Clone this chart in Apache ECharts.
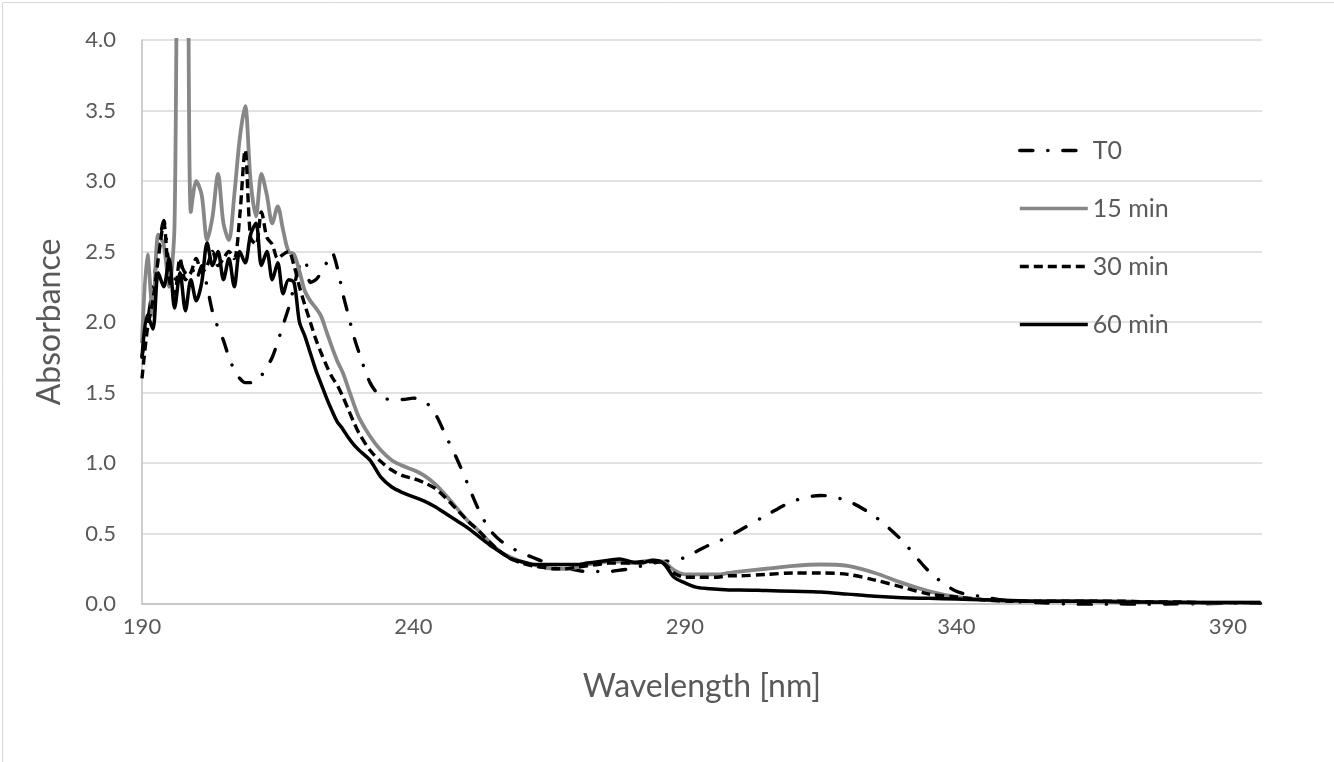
<!DOCTYPE html>
<html>
<head>
<meta charset="utf-8">
<script src="https://cdn.jsdelivr.net/npm/echarts@6/dist/echarts.min.js"></script>
<style>
html,body{margin:0;padding:0;background:#fff;}
#chart{width:1334px;height:762px;}
</style>
</head>
<body>
<div id="chart"></div>
<script>
// Wavelength grid [nm]
var wavelengths = [
  190,191,192,193,194,195,196,197,198,199,200,201,202,203,204,205,206,207,208,209,
  210,211,212,213,214,215,216,217,218,219,220,221,222,223,224,225,226,227,228,229,230,
  232,234,236,238,240,242,244,246,248,250,252,254,256,258,260,262,264,266,268,270,
  272,274,276,278,280,282,284,286,288,290,292,294,296,298,300,
  305,310,315,320,325,330,335,340,345,350,355,360,365,370,375,380,385,390,395,396
];
var seriesNames = ['T0', '15 min', '30 min', '60 min'];

var absT0 = [
  1.75,2.00,2.25,2.50,2.72,2.40,2.30,2.42,2.35,2.40,2.30,2.40,2.25,2.07,1.96,1.87,1.75,1.66,1.60,1.57,
  1.57,1.58,1.62,1.68,1.75,1.86,1.98,2.10,2.25,2.40,2.44,2.28,2.30,2.35,2.42,2.49,2.38,2.20,2.05,1.90,1.78,
  1.57,1.47,1.45,1.45,1.46,1.44,1.35,1.19,1.03,0.85,0.67,0.53,0.45,0.40,0.36,0.33,0.30,0.28,0.26,0.24,
  0.23,0.23,0.23,0.24,0.25,0.27,0.29,0.30,0.31,0.33,0.37,0.41,0.44,0.48,0.52,
  0.63,0.73,0.77,0.73,0.62,0.45,0.23,0.09,0.05,0.02,0.01,0.00,-0.005,0.00,-0.005,0.00,0.00,0.005,0.005,0.005
];
var abs15 = [
  1.85,2.48,2.05,2.62,2.55,2.25,2.70,6.50,6.50,2.78,3.00,2.90,2.58,2.75,3.05,2.70,2.58,2.90,3.30,3.53,
  3.00,2.75,3.05,2.90,2.70,2.82,2.65,2.50,2.48,2.36,2.22,2.15,2.10,2.04,1.93,1.82,1.72,1.64,1.53,1.42,1.32,
  1.19,1.09,1.02,0.98,0.95,0.91,0.85,0.77,0.68,0.59,0.52,0.44,0.37,0.33,0.30,0.28,0.26,0.25,0.25,0.26,
  0.28,0.29,0.30,0.30,0.29,0.30,0.31,0.30,0.24,0.21,0.21,0.21,0.21,0.22,0.23,
  0.25,0.27,0.28,0.27,0.22,0.15,0.09,0.05,0.03,0.02,0.02,0.02,0.02,0.02,0.015,0.015,0.01,0.01,0.01,0.01
];
var abs30 = [
  1.60,1.95,2.15,2.45,2.70,2.30,2.20,2.45,2.30,2.35,2.45,2.35,2.40,2.50,2.40,2.45,2.50,2.45,2.75,3.22,
  2.60,2.55,2.78,2.60,2.55,2.45,2.48,2.50,2.40,2.25,2.12,2.00,1.88,1.78,1.69,1.61,1.55,1.47,1.38,1.29,1.21,
  1.09,1.01,0.95,0.91,0.89,0.86,0.82,0.75,0.67,0.59,0.52,0.44,0.37,0.32,0.29,0.27,0.26,0.25,0.25,0.26,
  0.27,0.28,0.29,0.29,0.29,0.30,0.30,0.29,0.22,0.19,0.19,0.19,0.19,0.20,0.20,
  0.21,0.22,0.22,0.21,0.17,0.12,0.07,0.05,0.03,0.02,0.02,0.02,0.02,0.02,0.015,0.015,0.01,0.01,0.01,0.01
];
var abs60 = [
  1.75,2.05,1.95,2.35,2.25,2.45,2.10,2.35,2.08,2.30,2.15,2.28,2.56,2.40,2.50,2.30,2.45,2.25,2.50,2.42,
  2.62,2.70,2.40,2.50,2.30,2.42,2.20,2.30,2.28,2.00,1.90,1.78,1.66,1.56,1.46,1.37,1.29,1.24,1.18,1.13,1.09,
  1.02,0.90,0.83,0.79,0.76,0.73,0.69,0.64,0.59,0.54,0.48,0.42,0.37,0.32,0.30,0.28,0.28,0.28,0.28,0.28,
  0.29,0.30,0.31,0.32,0.30,0.29,0.31,0.29,0.19,0.15,0.12,0.11,0.105,0.10,0.10,
  0.095,0.09,0.085,0.07,0.055,0.045,0.04,0.035,0.03,0.025,0.02,0.02,0.02,0.015,0.015,0.01,0.01,0.01,0.01,0.01
];
var yTicks = ['0.0','0.5','1.0','1.5','2.0','2.5','3.0','3.5','4.0'];

function pairs(vals) {
  return wavelengths.map(function (w, i) { return [w, vals[i]]; });
}

var FONT = 'Lato';
var chart = echarts.init(document.getElementById('chart'), null, {renderer: 'canvas'});
var option = {
  backgroundColor: '#ffffff',
  animation: false,
  graphic: [{
    type: 'rect', left: 0, top: 0, silent: true,
    shape: {x: 0.5, y: 0.5, width: 1333, height: 761},
    style: {fill: 'none', stroke: '#D9D9D9', lineWidth: 1}
  }],
  grid: {left: 142, right: 72, top: 40, bottom: 158, containLabel: false},
  legend: {
    orient: 'vertical', left: 1018, top: 138, padding: 0,
    itemWidth: 68, itemHeight: 14, itemGap: 33,
    itemStyle: {opacity: 0},
    lineStyle: {width: 3.6},
    textStyle: {fontFamily: FONT, fontSize: 25, color: '#595959', lineHeight: 25},
    data: seriesNames
  },
  xAxis: {
    type: 'value', min: 190, max: 396.3, interval: 50,
    name: 'Wavelength [nm]', nameLocation: 'middle', nameGap: 67,
    nameTextStyle: {fontFamily: FONT, fontSize: 32, color: '#595959'},
    axisLine: {show: true, lineStyle: {color: '#BFBFBF', width: 1.5}},
    axisTick: {show: false},
    splitLine: {show: false},
    axisLabel: {fontFamily: FONT, fontSize: 22, color: '#595959', margin: 12, showMaxLabel: false,
      formatter: function (v) { return (v - 190) % 50 === 0 ? String(v) : ''; }}
  },
  yAxis: {
    type: 'value', min: 0, max: 4, interval: 0.5,
    name: 'Absorbance', nameLocation: 'middle', nameGap: 76,
    nameTextStyle: {fontFamily: FONT, fontSize: 32, color: '#595959'},
    axisLine: {show: true, lineStyle: {color: '#BFBFBF', width: 1.5}},
    axisTick: {show: false},
    splitLine: {show: true, lineStyle: {color: '#D9D9D9', width: 1.5}},
    axisLabel: {fontFamily: FONT, fontSize: 22, color: '#595959', margin: 26,
      formatter: function (v) { return yTicks[Math.round(v / 0.5)]; }}
  },
  series: [
    {name: seriesNames[0], type: 'line', data: pairs(absT0), symbol: 'none', smooth: 0.3, clip: true,
      itemStyle: {color: '#000000'},
      lineStyle: {color: '#000000', width: 3.4, type: [13, 15, 0.1, 15], cap: 'round'}},
    {name: seriesNames[1], type: 'line', data: pairs(abs15), symbol: 'none', smooth: 0.3, clip: true,
      itemStyle: {color: '#878787'},
      lineStyle: {color: '#878787', width: 3.8, type: 'solid'}},
    {name: seriesNames[2], type: 'line', data: pairs(abs30), symbol: 'none', smooth: 0.3, clip: true,
      itemStyle: {color: '#000000'},
      lineStyle: {color: '#000000', width: 3.4, type: [9, 5]}},
    {name: seriesNames[3], type: 'line', data: pairs(abs60), symbol: 'none', smooth: 0.3, clip: true,
      itemStyle: {color: '#000000'},
      lineStyle: {color: '#000000', width: 3.5, type: 'solid'}}
  ]
};
chart.setOption(option);
</script>
</body>
</html>
